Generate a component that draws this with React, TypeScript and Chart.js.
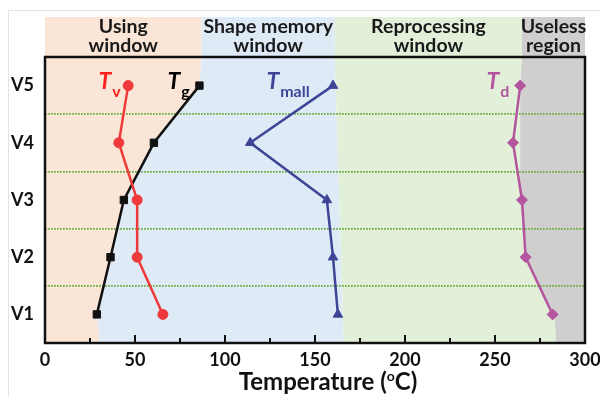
import React, { useEffect, useRef } from 'react';
import { Chart, registerables } from 'chart.js';

Chart.register(...registerables);

// ---- data ----
const categories = ['V1', 'V2', 'V3', 'V4', 'V5'];
const tvValues = [65.5, 51.2, 51.2, 41.0, 46.2];
const tgValues = [28.8, 36.4, 43.8, 60.5, 85.8];
const tmallValues = [162.7, 160.0, 156.6, 114.0, 160.0];
const tdValues = [282.0, 267.0, 265.0, 260.0, 264.0];

const xTickValues = [0, 50, 100, 150, 200, 250, 300];
const xMinorTickValues = [25, 75, 125, 175, 225, 275];

// header regions (temperature ranges)
const regionLines = [
  ['Using', 'window'],
  ['Shape memory', 'window'],
  ['Reprocessing', 'window'],
  ['Useless', 'region'],
];
const regionFrom = [0, 87, 161, 265];
const regionTo = [87, 161, 265, 300];
const regionColors = ['#FBE5D6', '#DEEBF7', '#E2F0D9', '#D0CECE'];

// shading edges inside the plot: values at [bottom edge, V1, V2, V3, V4, V5, top edge]
const edgeIndex = [-0.5, 0, 1, 2, 3, 4, 4.5];
const leftEdge = [0, null, null, null, null, null, 0];
const usingEdge = [30.4, 28.8, 36.4, 43.8, 60.5, 85.8, 87];
const memoryEdge = [166, null, null, null, null, null, 161];
const reprocessEdge = [284, 283, 267, 264, 264, 264, 265];
const rightEdge = [300, null, null, null, null, null, 300];

// curve labels
const labelMain = ['T', 'T', 'T', 'T'];
const labelSub = ['v', 'g', 'mall', 'd'];
const labelAt = [29.7, 68, 123, 245.3];
const labelColors = ['#FF1F1F', '#000000', '#3F4596', '#B4559F'];

const seriesColors = ['#EE3A3A', '#111111', '#3F4596', '#B4559F'];

const FONT = 'Lato, "Open Sans", sans-serif';

const chartPlugin = {
  id: 'decor',
  beforeDraw(chart: any) {
    const { ctx, chartArea } = chart;
    const xs = chart.scales.x;
    const ys = chart.scales.y;
    ctx.save();
    // faint outer frame
    ctx.strokeStyle = '#E3E3E3';
    ctx.lineWidth = 1;
    ctx.beginPath();
    ctx.moveTo(8.5, chart.height);
    ctx.lineTo(8.5, 10.5);
    ctx.lineTo(chart.width, 10.5);
    ctx.stroke();

    // header bands
    const hTop = chartArea.top - 40;
    for (let i = 0; i < regionFrom.length; i++) {
      const x0 = xs.getPixelForValue(regionFrom[i]);
      const x1 = xs.getPixelForValue(regionTo[i]);
      ctx.fillStyle = regionColors[i];
      ctx.fillRect(x0, hTop, x1 - x0, chartArea.top - hTop);
    }
    // plot shading polygons
    const pts = (edge: (number | null)[]) => {
      const out: [number, number][] = [];
      edge.forEach((v, i) => {
        if (v !== null) out.push([xs.getPixelForValue(v), ys.getPixelForValue(edgeIndex[i])]);
      });
      return out;
    };
    const edges = [leftEdge, usingEdge, memoryEdge, reprocessEdge, rightEdge];
    for (let i = 0; i < 4; i++) {
      const a = pts(edges[i]);
      const b = pts(edges[i + 1]).reverse();
      ctx.fillStyle = regionColors[i];
      ctx.beginPath();
      a.concat(b).forEach(([x, y], k) => (k === 0 ? ctx.moveTo(x, y) : ctx.lineTo(x, y)));
      ctx.closePath();
      ctx.fill();
    }
    ctx.restore();
  },
  afterDraw(chart: any) {
    const { ctx, chartArea } = chart;
    const xs = chart.scales.x;
    const ys = chart.scales.y;
    ctx.save();
    // frame
    ctx.strokeStyle = '#111';
    ctx.lineWidth = 2.5;
    ctx.strokeRect(chartArea.left, chartArea.top, chartArea.right - chartArea.left, chartArea.bottom - chartArea.top);
    // inward ticks
    ctx.lineWidth = 2;
    ctx.beginPath();
    xTickValues.forEach((v) => {
      const x = Math.round(xs.getPixelForValue(v));
      ctx.moveTo(x, chartArea.bottom);
      ctx.lineTo(x, chartArea.bottom - 8);
    });
    xMinorTickValues.forEach((v) => {
      const x = Math.round(xs.getPixelForValue(v));
      ctx.moveTo(x, chartArea.bottom);
      ctx.lineTo(x, chartArea.bottom - 5);
    });
    ctx.stroke();

    // header texts
    ctx.fillStyle = '#1A1A1A';
    ctx.font = `bold 19.5px ${FONT}`;
    ctx.textAlign = 'center';
    ctx.textBaseline = 'middle';
    for (let i = 0; i < regionLines.length; i++) {
      const cx = (xs.getPixelForValue(regionFrom[i]) + xs.getPixelForValue(regionTo[i])) / 2;
      ctx.fillText(regionLines[i][0], cx, chartArea.top - 30);
      ctx.fillText(regionLines[i][1], cx, chartArea.top - 11);
    }

    // curve labels
    ctx.textAlign = 'left';
    ctx.textBaseline = 'alphabetic';
    const base = ys.getPixelForValue(4) + 3;
    for (let i = 0; i < labelMain.length; i++) {
      const x = xs.getPixelForValue(labelAt[i]);
      ctx.fillStyle = labelColors[i];
      ctx.font = `italic bold 23px ${FONT}`;
      ctx.fillText(labelMain[i], x, base);
      const w = ctx.measureText(labelMain[i]).width;
      ctx.font = `bold 16px ${FONT}`;
      ctx.fillText(labelSub[i], x + w + 1, base + 8);
    }

    // x axis title with superscript
    const t1 = 'Temperature (';
    const t2 = 'o';
    const t3 = 'C)';
    ctx.fillStyle = '#111';
    ctx.font = `bold 24px ${FONT}`;
    const w1 = ctx.measureText(t1).width;
    const w3 = ctx.measureText(t3).width;
    ctx.font = `bold 14px ${FONT}`;
    const w2 = ctx.measureText(t2).width;
    const total = w1 + w2 + w3;
    const cx = (chartArea.left + chartArea.right) / 2 + 13;
    let x = cx - total / 2;
    const by = chartArea.bottom + 47;
    ctx.font = `bold 24px ${FONT}`;
    ctx.fillText(t1, x, by);
    x += w1;
    ctx.font = `bold 14px ${FONT}`;
    ctx.fillText(t2, x, by - 9);
    x += w2;
    ctx.font = `bold 24px ${FONT}`;
    ctx.fillText(t3, x, by);
    ctx.restore();
  },
};

function makeSeries(label: string, values: number[], color: string, pointStyle: string, radius: number) {
  return {
    label,
    data: values.map((v, i) => ({ x: v, y: categories[i] })),
    borderColor: color,
    backgroundColor: color,
    pointBackgroundColor: color,
    pointBorderColor: color,
    borderWidth: 2.5,
    pointBorderWidth: 1,
    pointStyle,
    pointRadius: radius,
    tension: 0,
    fill: false,
    clip: false,
  };
}

export default function App() {
  const canvasRef = useRef<HTMLCanvasElement | null>(null);

  useEffect(() => {
    document.body.style.margin = '0';
    const canvas = canvasRef.current;
    if (!canvas) return;
    const chart = new Chart(canvas, {
      type: 'line',
      data: {
        datasets: [
          makeSeries('Tv', tvValues, seriesColors[0], 'circle', 5),
          makeSeries('Tg', tgValues, seriesColors[1], 'rect', 5.2),
          makeSeries('Tmall', tmallValues, seriesColors[2], 'triangle', 5.5),
          makeSeries('Td', tdValues, seriesColors[3], 'rectRot', 5.5),
        ],
      },
      options: {
        animation: false,
        responsive: false,
        maintainAspectRatio: false,
        devicePixelRatio: 1,
        layout: { padding: { top: 57, right: 15, left: 0, bottom: 0 } },
        plugins: { legend: { display: false }, tooltip: { enabled: false }, title: { display: false } },
        scales: {
          x: {
            type: 'linear',
            position: 'bottom',
            min: 0,
            max: 300,
            afterBuildTicks: (s: any) => {
              s.ticks = xTickValues.map((v) => ({ value: v }));
            },
            afterFit: (s: any) => {
              s.height = 53;
              s.paddingLeft = 0;
              s.paddingRight = 0;
            },
            ticks: {
              font: { family: FONT, weight: 'bold', size: 18 },
              color: '#111',
              padding: 6,
              maxRotation: 0,
              autoSkip: false,
            },
            grid: { display: false, drawTicks: false },
            border: { display: false },
          },
          y: {
            type: 'category',
            labels: categories,
            reverse: true,
            offset: true,
            position: 'left',
            afterFit: (s: any) => {
              s.width = 45;
              s.paddingTop = 0;
              s.paddingBottom = 0;
            },
            ticks: {
              font: { family: FONT, weight: 'bold', size: 18 },
              color: '#111',
              padding: 11,
            },
            grid: {
              offset: true,
              drawTicks: false,
              lineWidth: 1.8,
              color: (c: any) => (c.index === 0 || c.index >= categories.length ? 'rgba(0,0,0,0)' : '#6FAE45'),
            },
            border: { display: false, dash: [1.8, 1.2] },
          },
        },
      },
      plugins: [chartPlugin],
    } as any);
    return () => chart.destroy();
  }, []);

  return (
    <div style={{ position: 'absolute', left: 0, top: 0, width: 600, height: 396, background: '#fff' }}>
      <canvas ref={canvasRef} width={600} height={396} style={{ width: 600, height: 396, display: 'block' }} />
    </div>
  );
}
